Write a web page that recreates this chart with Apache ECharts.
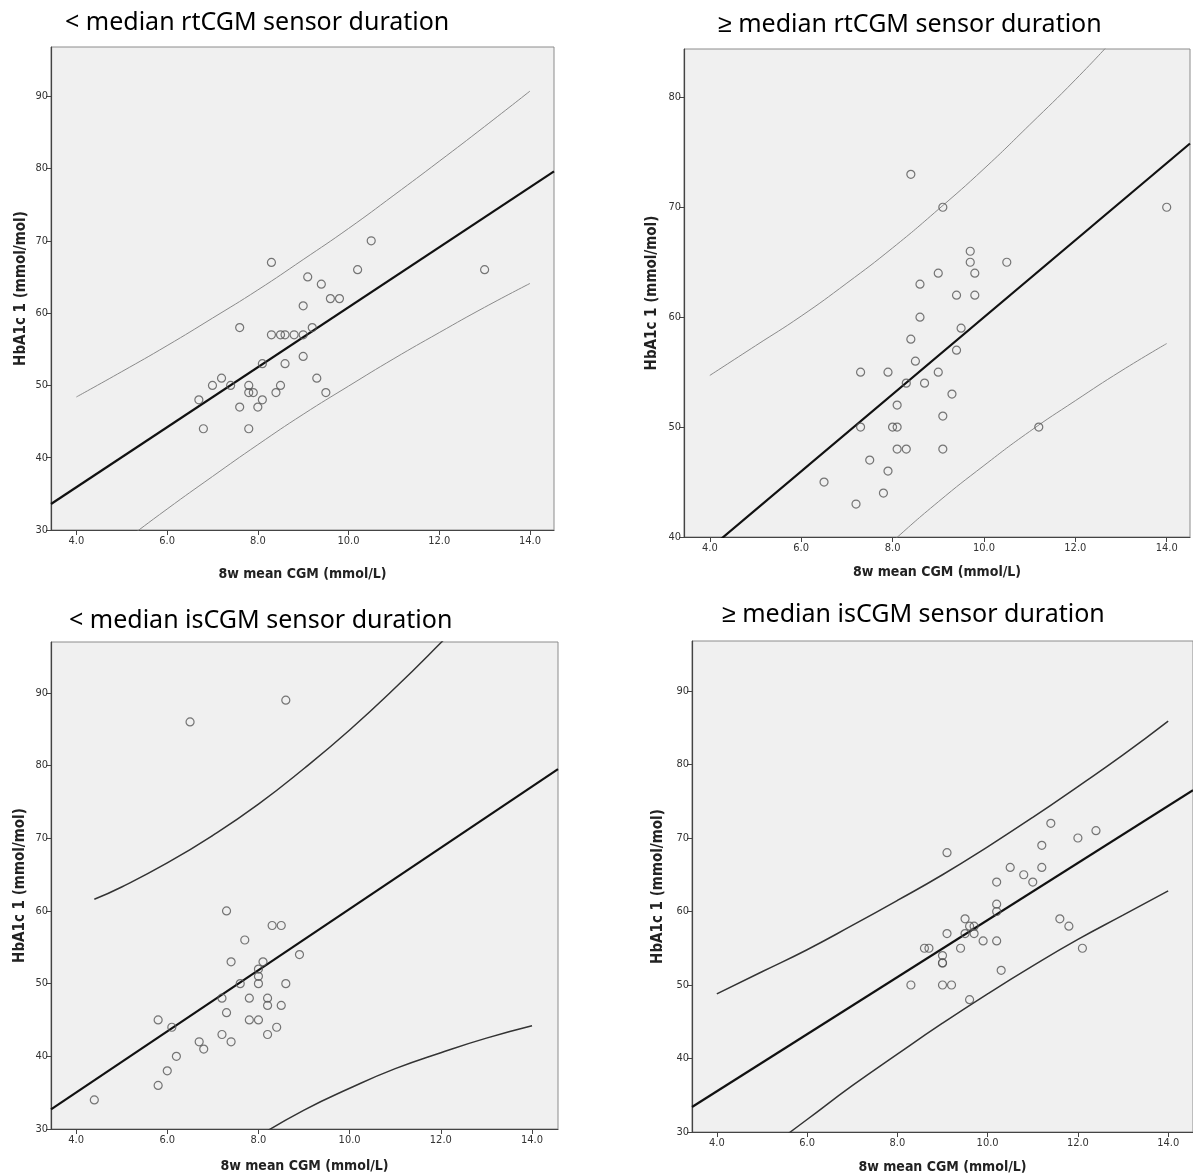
<!DOCTYPE html>
<html>
<head>
<meta charset="utf-8">
<script src="https://cdn.jsdelivr.net/npm/echarts@6/dist/echarts.min.js"></script>
<style>
  html, body { margin: 0; padding: 0; background: #fff; }
  #chart { width: 1193px; height: 1176px; }
</style>
</head>
<body>
<div id="chart"></div>
<script>
// values
const titles = [
  "< median rtCGM sensor duration",
  "\u2265 median rtCGM sensor duration",
  "< median isCGM sensor duration",
  "\u2265 median isCGM sensor duration"
];
const xTicks = [4, 6, 8, 10, 12, 14];
const yTicksWide = [30, 40, 50, 60, 70, 80, 90];
const yTicksNarrow = [40, 50, 60, 70, 80];

const rtLowPoints = [[6.7,48],[6.8,44],[7.0,50],[7.2,51],[7.4,50],[7.6,58],[7.6,47],[7.8,50],[7.8,49],[7.9,49],[7.8,44],[8.0,47],[8.1,53],[8.1,48],[8.3,67],[8.3,57],[8.4,49],[8.5,57],[8.6,57],[8.5,50],[8.6,53],[8.8,57],[9.0,57],[9.0,61],[9.0,54],[9.1,65],[9.2,58],[9.3,51],[9.4,64],[9.5,49],[9.6,62],[9.8,62],[10.2,66],[10.5,70],[13.0,66]];
const rtHighPoints = [[8.4,73],[9.1,70],[14.0,70],[9.7,66],[9.7,65],[10.5,65],[9.0,64],[9.8,64],[8.6,63],[9.4,62],[9.8,62],[8.6,60],[9.5,59],[8.4,58],[9.4,57],[8.5,56],[7.3,55],[7.9,55],[9.0,55],[8.3,54],[8.7,54],[9.3,53],[8.1,52],[9.1,51],[7.3,50],[8.0,50],[8.1,50],[11.2,50],[8.1,48],[8.3,48],[9.1,48],[7.5,47],[7.9,46],[6.5,45],[7.8,44],[7.2,43]];
const isLowPoints = [[6.5,86],[8.6,89],[7.3,60],[8.3,58],[8.5,58],[7.7,56],[8.9,54],[7.4,53],[8.1,53],[8.0,52],[8.0,51],[7.6,50],[8.0,50],[8.6,50],[7.2,48],[7.8,48],[8.2,48],[8.2,47],[8.5,47],[7.3,46],[5.8,45],[7.8,45],[8.0,45],[6.1,44],[8.4,44],[7.2,43],[8.2,43],[6.7,42],[7.4,42],[6.8,41],[6.2,40],[6.0,38],[5.8,36],[4.4,34]];
const isHighPoints = [[8.3,50],[8.6,55],[8.7,55],[9.0,54],[9.0,53],[9.0,53],[9.0,50],[9.1,57],[9.1,68],[9.2,50],[9.4,55],[9.5,59],[9.5,57],[9.6,58],[9.6,48],[9.7,58],[9.7,57],[9.9,56],[10.2,64],[10.2,61],[10.2,60],[10.2,56],[10.3,52],[10.5,66],[10.8,65],[11.0,64],[11.2,69],[11.2,66],[11.4,72],[11.6,59],[11.8,58],[12.0,70],[12.1,55],[12.4,71]];

// fit line, read at the left and right edge of each plot
const rtLowFit = [[3.44, 33.6], [14.53, 79.6]];
const rtHighFit = [[3.44, 37.0], [14.51, 75.8]];
const isLowFit = [[3.45, 32.7], [14.57, 79.5]];
const isHighFit = [[3.45, 33.4], [14.55, 76.5]];

// prediction band, read at these x positions
const bandX = [4, 5, 6, 7, 8, 9, 10, 11, 12, 13, 14];
const bandXisLow = [4.4, 5, 6, 7, 8, 9, 10, 11, 12, 13, 14];
const rtLowUpper = [48.4, 51.9, 55.5, 59.3, 63.2, 67.4, 71.7, 76.3, 81.0, 85.8, 90.7];
const rtLowLower = [23.4, 28.2, 32.9, 37.4, 41.8, 46.0, 49.9, 53.7, 57.3, 60.8, 64.1];
const rtHighUpper = [54.7, 57.4, 60.1, 63.1, 66.3, 69.8, 73.5, 77.5, 81.6, 86.0, 90.5];
const rtHighLower = [23.1, 27.5, 31.8, 35.8, 39.6, 43.2, 46.5, 49.6, 52.4, 55.1, 57.6];
const isLowUpper = [61.6, 63.3, 66.6, 70.4, 74.7, 79.6, 84.9, 90.7, 96.9, 103.3, 110.0];
const isLowLower = [11.8, 15.1, 20.3, 24.9, 29.0, 32.6, 35.6, 38.3, 40.5, 42.5, 44.2];
const isHighUpper = [48.8, 51.8, 54.8, 58.1, 61.5, 65.0, 68.8, 72.8, 77.0, 81.3, 85.9];
const isHighLower = [22.3, 27.1, 31.7, 36.3, 40.6, 44.8, 48.8, 52.6, 56.2, 59.5, 62.8];

const narrowFont = "'Liberation Sans Narrow', 'DejaVu Sans Condensed', 'Liberation Sans', sans-serif";

const panels = [
  { grid: { left: 51, top: 47, width: 503, height: 483 }, xMin: 3.44, xMax: 14.53, yMin: 30, yMax: 96.8, yTicks: yTicksWide,
    points: rtLowPoints, fit: rtLowFit, bx: bandX, upper: rtLowUpper, lower: rtLowLower, bandColor: "#8a8a8a", bandWidth: 1,
    title: { left: 60, top: 5 }, xNameGap: 37, yNameGap: 22 },
  { grid: { left: 684, top: 49, width: 506, height: 488 }, xMin: 3.435, xMax: 14.51, yMin: 40, yMax: 84.4, yTicks: yTicksNarrow,
    points: rtHighPoints, fit: rtHighFit, bx: bandX, upper: rtHighUpper, lower: rtHighLower, bandColor: "#8a8a8a", bandWidth: 1,
    title: { left: 713, top: 7 }, xNameGap: 28, yNameGap: 24 },
  { grid: { left: 51, top: 642, width: 507, height: 487 }, xMin: 3.45, xMax: 14.57, yMin: 30, yMax: 97.0, yTicks: yTicksWide,
    points: isLowPoints, fit: isLowFit, bx: bandXisLow, upper: isLowUpper, lower: isLowLower, bandColor: "#333", bandWidth: 1.5,
    title: { left: 64, top: 603 }, xNameGap: 30, yNameGap: 23 },
  { grid: { left: 692, top: 641, width: 503, height: 491 }, xMin: 3.45, xMax: 14.55, yMin: 30, yMax: 96.8, yTicks: yTicksWide,
    points: isHighPoints, fit: isHighFit, bx: bandX, upper: isHighUpper, lower: isHighLower, bandColor: "#333", bandWidth: 1.5,
    title: { left: 717, top: 597 }, xNameGap: 28, yNameGap: 26 }
];

const zip = (xs, ys) => xs.map((x, i) => [x, ys[i]]);

const option = {
  animation: false,
  backgroundColor: "#fff",
  title: [],
  grid: [],
  xAxis: [],
  yAxis: [],
  series: []
};

panels.forEach((p, i) => {
  option.title.push({
    text: titles[i],
    left: p.title.left,
    top: p.title.top,
    textStyle: { fontFamily: "'Noto Sans', sans-serif", fontSize: 25, fontWeight: "normal", color: "#000" }
  });
  option.grid.push(Object.assign({
    show: true,
    backgroundColor: "#f0f0f0",
    borderColor: "#8c8c8c",
    borderWidth: 1
  }, p.grid));
  option.xAxis.push({
    type: "value",
    gridIndex: i,
    min: p.xMin,
    max: p.xMax,
    name: "8w mean CGM (mmol/L)",
    nameLocation: "middle",
    nameGap: p.xNameGap,
    nameTextStyle: { fontFamily: narrowFont, fontSize: 14, fontWeight: "bold", color: "#222" },
    axisLine: { lineStyle: { color: "#444", width: 1.2 } },
    axisTick: { customValues: xTicks, length: 5, lineStyle: { color: "#444" } },
    axisLabel: { customValues: xTicks, formatter: v => v.toFixed(1), fontFamily: narrowFont, fontSize: 11, color: "#333", margin: 6 },
    splitLine: { show: false }
  });
  option.yAxis.push({
    type: "value",
    gridIndex: i,
    min: p.yMin,
    max: p.yMax,
    name: "HbA1c 1 (mmol/mol)",
    nameLocation: "middle",
    nameRotate: 90,
    nameGap: p.yNameGap,
    nameTextStyle: { fontFamily: narrowFont, fontSize: 15, fontWeight: "bold", color: "#222" },
    axisLine: { lineStyle: { color: "#444", width: 1.2 } },
    axisTick: { customValues: p.yTicks, length: 5, lineStyle: { color: "#444" } },
    axisLabel: { customValues: p.yTicks, fontFamily: narrowFont, fontSize: 11, color: "#333", margin: 3 },
    splitLine: { show: false }
  });
  const lineBase = { type: "line", xAxisIndex: i, yAxisIndex: i, symbol: "none", silent: true, clip: true };
  option.series.push(Object.assign({}, lineBase, {
    data: zip(p.bx, p.upper), smooth: 0.5,
    lineStyle: { color: p.bandColor, width: p.bandWidth }
  }));
  option.series.push(Object.assign({}, lineBase, {
    data: zip(p.bx, p.lower), smooth: 0.5,
    lineStyle: { color: p.bandColor, width: p.bandWidth }
  }));
  option.series.push(Object.assign({}, lineBase, {
    data: p.fit, lineStyle: { color: "#111", width: 2.2 }
  }));
  option.series.push({
    type: "scatter",
    xAxisIndex: i,
    yAxisIndex: i,
    data: p.points,
    symbol: "circle",
    symbolSize: 8,
    itemStyle: { color: "rgba(0,0,0,0)", borderColor: "#555", borderWidth: 1.2 },
    z: 5
  });
});

const chart = echarts.init(document.getElementById("chart"));
chart.setOption(option);
</script>
</body>
</html>
